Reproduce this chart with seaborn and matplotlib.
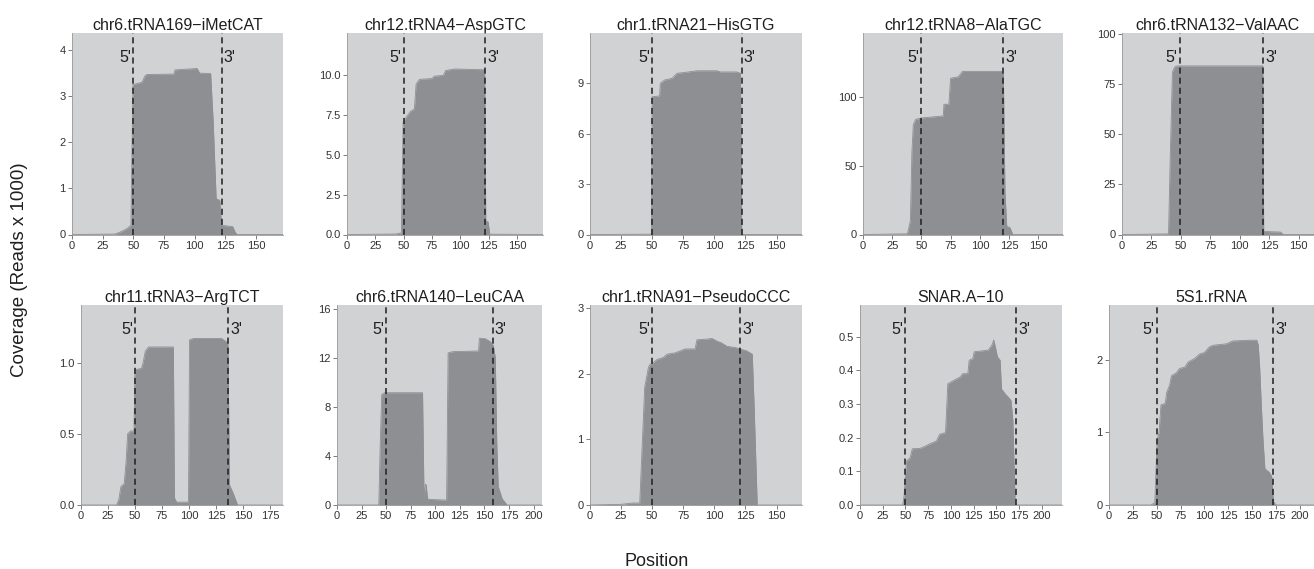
import matplotlib
matplotlib.use("Agg")
import matplotlib.pyplot as plt
import matplotlib.transforms as mtransforms
import seaborn as sns

sns.set_style("white")
plt.rcParams['font.family'] = ['Liberation Sans', 'DejaVu Sans']

# ---------------- data ----------------
titles = ["chr6.tRNA169\u2212iMetCAT", "chr12.tRNA4\u2212AspGTC", "chr1.tRNA21\u2212HisGTG",
          "chr12.tRNA8\u2212AlaTGC", "chr6.tRNA132\u2212ValAAC", "chr11.tRNA3\u2212ArgTCT",
          "chr6.tRNA140\u2212LeuCAA", "chr1.tRNA91\u2212PseudoCCC", "SNAR.A\u221210", "5S1.rRNA"]

pos_1 = [0, 35, 40, 45, 48, 49.7, 57, 59.5, 61, 83, 84, 102, 104, 113, 115, 117.5, 120.5, 121.8, 131, 133, 134.5, 172]
cov_1 = [0, 0.01, 0.06, 0.13, 0.2, 3.25, 3.3, 3.44, 3.47, 3.48, 3.57, 3.6, 3.5, 3.49, 2.5, 0.78, 0.74, 0.2, 0.17, 0.05, 0, 0]

pos_2 = [0, 43, 48, 49.5, 52, 56, 59.5, 61, 64, 75, 77, 85, 87, 95, 121.5, 122.5, 124.5, 126, 173]
cov_2 = [0, 0.03, 0.1, 7.0, 7.3, 7.7, 7.85, 9.4, 9.7, 9.75, 9.9, 9.95, 10.25, 10.35, 10.3, 0.85, 0.8, 0.02, 0]

pos_3 = [0, 49.5, 50, 56, 56.5, 60, 66, 70, 76, 86, 102, 105, 118, 121, 122, 170.5]
cov_3 = [0, 0.02, 8.2, 8.25, 9.0, 9.2, 9.3, 9.6, 9.65, 9.75, 9.75, 9.68, 9.68, 9.6, 0, 0]

pos_4 = [0, 38, 40.5, 41.8, 43, 45, 50, 68.6, 69.2, 73.4, 74.9, 81.4, 85.1, 118.6, 120, 121.4, 122.9, 125.7, 128, 171]
cov_4 = [0, 0.5, 10, 60, 80, 84, 85, 86.5, 95, 95, 114, 115, 119, 119, 117, 30, 6, 5, 0, 0]

pos_5 = [0, 39.5, 41, 42.8, 44.8, 47, 119.5, 120.3, 134.5, 137, 163]
cov_5 = [0, 0.3, 40, 81, 83.5, 84, 84, 1.5, 1.2, 0, 0]

pos_6 = [0, 33, 35, 37, 40, 41.7, 43.2, 46, 49, 50, 56, 57.5, 59.5, 62.5, 85.5, 86.5, 88.5, 99.5, 100.5, 104,
         130, 136, 137.5, 141, 145, 187]
cov_6 = [0, 0.0, 0.04, 0.13, 0.15, 0.3, 0.5, 0.52, 0.52, 0.95, 0.96, 1.0, 1.08, 1.11, 1.11, 0.05, 0.02, 0.02,
         1.16, 1.17, 1.17, 1.14, 0.14, 0.08, 0, 0]

pos_7 = [0, 42.5, 44, 45.5, 48.5, 87, 88.5, 90, 90.8, 92, 95, 111.5, 113, 118, 144, 144.8, 151, 156, 159, 161,
         162.5, 164, 168, 173, 208.5]
cov_7 = [0, 0, 5, 9.0, 9.15, 9.15, 0.6, 1.7, 1.6, 0.5, 0.45, 0.4, 12.4, 12.5, 12.55, 13.6, 13.55, 13.3, 13.0,
         12.0, 5, 1.5, 0.5, 0, 0]

pos_8 = [0, 25, 34, 40, 41.5, 44, 47, 48.5, 51, 54, 59, 62, 68.5, 76.5, 84.5, 86, 94, 98, 102, 106, 110, 117,
         126, 130.5, 132, 134.5, 170.5]
cov_8 = [0, 0.01, 0.03, 0.03, 0.7, 1.8, 2.1, 2.15, 2.17, 2.22, 2.25, 2.3, 2.32, 2.38, 2.38, 2.52, 2.53, 2.54,
         2.5, 2.47, 2.42, 2.4, 2.35, 2.3, 1.5, 0, 0]

pos_9 = [0, 47, 48.5, 51, 55, 57.5, 66, 72, 77, 84, 87.5, 94, 96.5, 103, 110, 113, 118.5, 120, 124, 125.5,
         141, 145, 147, 149.5, 151, 154, 155.5, 159.5, 163, 166, 168, 170.5, 222]
cov_9 = [0, 0, 0.03, 0.13, 0.14, 0.167, 0.168, 0.175, 0.182, 0.19, 0.21, 0.215, 0.36, 0.37, 0.38, 0.39, 0.39,
         0.43, 0.435, 0.455, 0.46, 0.475, 0.49, 0.46, 0.44, 0.43, 0.345, 0.33, 0.32, 0.31, 0.25, 0, 0]

pos_10 = [0, 44, 48, 50.5, 52.5, 54.5, 59, 60.5, 63.5, 65.5, 70.5, 74, 79.5, 83, 90, 95, 100, 105.5, 109, 123,
          130, 149, 155, 156.5, 158, 160, 161.5, 163.5, 168, 170.5, 172.5, 175, 215]
cov_10 = [0, 0, 0.03, 0.9, 1.0, 1.38, 1.4, 1.55, 1.65, 1.78, 1.82, 1.88, 1.9, 1.97, 2.02, 2.08, 2.1, 2.18, 2.2,
          2.22, 2.26, 2.27, 2.27, 2.2, 1.9, 1.3, 0.9, 0.5, 0.45, 0.4, 0.05, 0, 0]

positions = [pos_1, pos_2, pos_3, pos_4, pos_5, pos_6, pos_7, pos_8, pos_9, pos_10]
coverages = [cov_1, cov_2, cov_3, cov_4, cov_5, cov_6, cov_7, cov_8, cov_9, cov_10]

five_prime = [50, 50, 50, 49.5, 49, 50, 50, 50, 50, 50]
three_prime = [122, 122, 122, 120, 120, 136.5, 158.5, 121, 171.5, 172]
x_max = [172, 173, 170.5, 171, 163, 187, 208.5, 170.5, 222, 215]
y_max = [4.37, 12.6, 12.0, 147, 100.4, 1.405, 16.3, 3.05, 0.594, 2.755]
x_ticks = [[0, 25, 50, 75, 100, 125, 150]] * 5 + [[0, 25, 50, 75, 100, 125, 150, 175],
                                                  [0, 25, 50, 75, 100, 125, 150, 175, 200],
                                                  [0, 25, 50, 75, 100, 125, 150],
                                                  [0, 25, 50, 75, 100, 125, 150, 175, 200],
                                                  [0, 25, 50, 75, 100, 125, 150, 175, 200]]
y_ticks = [[0, 1, 2, 3, 4], [0, 2.5, 5, 7.5, 10], [0, 3, 6, 9], [0, 50, 100], [0, 25, 50, 75, 100],
           [0, 0.5, 1.0], [0, 4, 8, 12, 16], [0, 1, 2, 3], [0, 0.1, 0.2, 0.3, 0.4, 0.5], [0, 1, 2]]
y_fmt = ["{:.0f}", "{:.1f}", "{:.0f}", "{:.0f}", "{:.0f}", "{:.1f}", "{:.0f}", "{:.0f}", "{:.1f}", "{:.0f}"]

# ---------------- layout (pixel boxes: left, right, top, bottom) ----------------
W, H = 1314, 569
boxes = [(72, 283, 33, 234.5), (347, 543, 33, 234.5), (590, 802, 33, 234.5), (863, 1063, 33, 234.5),
         (1122, 1314, 33, 234.5),
         (81, 283, 305, 505), (337, 542, 305, 505), (590, 802, 305, 505), (860, 1062, 305, 505),
         (1109, 1314, 305, 505)]

BG = "#d1d2d4"
FILL = "#8e8f93"
TXT = "#1f1f1f"

fig = plt.figure(figsize=(W / 100, H / 100), dpi=100)

for i in range(10):
    l, r, t, b = boxes[i]
    ax = fig.add_axes([l / W, 1 - b / H, (r - l) / W, (b - t) / H])
    ax.set_facecolor(BG)
    ax.fill_between(positions[i], coverages[i], 0, color=FILL, linewidth=0, zorder=2)
    sns.lineplot(x=positions[i], y=coverages[i], ax=ax, color=FILL, linewidth=0.6, sort=False,
                 estimator=None, zorder=3)
    ax.axvline(five_prime[i], color=TXT, lw=1.1, ls=(0, (4, 2.6)), zorder=4)
    ax.axvline(three_prime[i], color=TXT, lw=1.1, ls=(0, (4, 2.6)), zorder=4)
    trans = mtransforms.blended_transform_factory(ax.transData, ax.transAxes)
    ax.annotate("5'", xy=(five_prime[i], 0.88), xycoords=trans, xytext=(-1.5, 0),
                textcoords="offset points", ha="right", va="center", fontsize=11.5, color=TXT)
    ax.annotate("3'", xy=(three_prime[i], 0.88), xycoords=trans, xytext=(1.5, 0),
                textcoords="offset points", ha="left", va="center", fontsize=11.5, color=TXT)
    ax.set_xlim(0, x_max[i])
    ax.set_ylim(0, y_max[i])
    ax.set_xticks(x_ticks[i])
    ax.set_xticklabels([str(v) for v in x_ticks[i]])
    ax.set_yticks(y_ticks[i])
    ax.set_yticklabels([y_fmt[i].format(v) for v in y_ticks[i]])
    ax.tick_params(axis="both", which="major", length=3, width=0.6, color="#666666",
                   labelsize=8, labelcolor="#333333", pad=1.5, bottom=True, left=True)
    for side in ["top", "right"]:
        ax.spines[side].set_visible(False)
    for side in ["left", "bottom"]:
        ax.spines[side].set_color("#999999")
        ax.spines[side].set_linewidth(0.6)
    ax.set_xlabel("")
    ax.set_ylabel("")
    ax.set_title(titles[i], fontsize=11.5, color=TXT, pad=2.5)

fig.text(20 / W, 1 - 270 / H, "Coverage (Reads x 1000)", rotation=90, ha="center", va="center",
         fontsize=13.5, color=TXT)
fig.text(657 / W, 1 - 561 / H, "Position", ha="center", va="center", fontsize=13, color=TXT)

fig.savefig("out.png", dpi=100)
